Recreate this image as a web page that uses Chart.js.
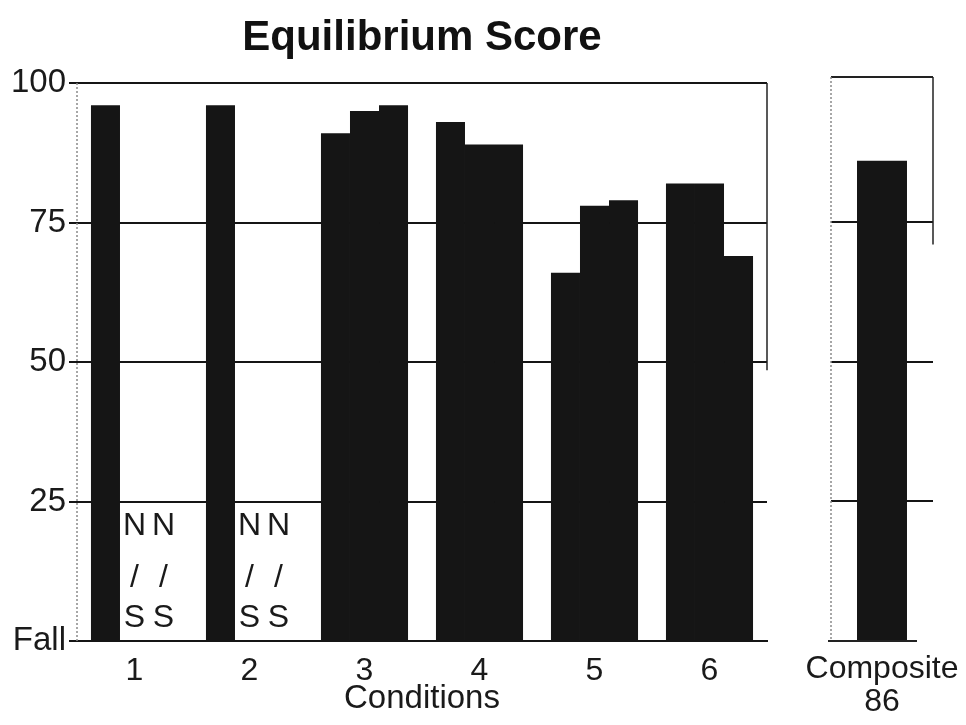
<!DOCTYPE html>
<html>
<head>
<meta charset="utf-8">
<title>Equilibrium Score</title>
<script src="https://cdn.jsdelivr.net/npm/chart.js@4.4.1/dist/chart.umd.min.js"></script>
<style>
    body { margin: 0; background: #fff; }
    #mainBox { position: absolute; left: 0; top: 0; width: 790px; height: 725px; }
    #compBox { position: absolute; left: 790px; top: 0; width: 176px; height: 725px; }
</style>
</head>
<body>
<div id="mainBox"><canvas id="scoreChart" width="790" height="725"></canvas></div>
<div id="compBox"><canvas id="compositeChart" width="176" height="725"></canvas></div>
<script>
// Conditions and the three trials per condition (null = not scored, shown as N/S)
const conditions = ['1', '2', '3', '4', '5', '6'];
const trial1 = [96, 96, 91, 93, 66, 82];
const trial2 = [null, null, 95, 89, 78, 82];
const trial3 = [null, null, 96, 89, 79, 69];

// Composite panel
const compositeName = 'Composite';
const compositeScore = 86;

// Y axis tick labels (bottom value is a fall)
const yTickLabels = ['Fall', '25', '50', '75', '100'];
const notScoredText = ['N', '/', 'S'];

const fontFamily = '"Liberation Sans", Arial, sans-serif';
const ink = '#151515';

// Writes N / S in the slot of each trial that has no score
const notScoredPlugin = {
    id: 'notScored',
    afterDatasetsDraw(chart) {
        const ctx = chart.ctx;
        const y = chart.scales.y;
        const levels = [20.5, 11.3, 4.1]; // where the three characters sit
        ctx.save();
        ctx.fillStyle = '#1a1a1a';
        ctx.font = '32px ' + fontFamily;
        ctx.textAlign = 'center';
        ctx.textBaseline = 'middle';
        chart.data.datasets.forEach((ds, i) => {
            const meta = chart.getDatasetMeta(i);
            ds.data.forEach((v, j) => {
                if (v !== null) return;
                const x = meta.data[j].x;
                notScoredText.forEach((ch, k) => {
                    ctx.fillText(ch, x, y.getPixelForValue(levels[k]));
                });
            });
        });
        ctx.restore();
    }
};

// Dotted left axis, and right edge of the frame only down to just below 50
const mainFramePlugin = {
    id: 'mainFrame',
    afterDraw(chart) {
        const ctx = chart.ctx;
        const a = chart.chartArea;
        ctx.save();
        ctx.strokeStyle = '#222';
        ctx.lineWidth = 1.5;
        ctx.beginPath();
        ctx.moveTo(a.right, a.top);
        ctx.lineTo(a.right, chart.scales.y.getPixelForValue(48.5));
        ctx.stroke();
        ctx.strokeStyle = '#8a8a8a';
        ctx.setLineDash([2, 2]);
        ctx.beginPath();
        ctx.moveTo(a.left, a.top);
        ctx.lineTo(a.left, a.bottom);
        ctx.stroke();
        ctx.restore();
    }
};

// Frame around the composite bar
const compFramePlugin = {
    id: 'compFrame',
    afterDraw(chart) {
        const ctx = chart.ctx;
        const a = chart.chartArea;
        const bar = chart.getDatasetMeta(0).data[0];
        ctx.save();
        ctx.strokeStyle = '#222';
        ctx.lineWidth = 2;
        ctx.beginPath();
        ctx.moveTo(a.left, a.top);
        ctx.lineTo(a.right, a.top);
        ctx.stroke();
        // base line stops a little past the bar
        ctx.beginPath();
        ctx.moveTo(a.left - 3, a.bottom);
        ctx.lineTo(bar.x + bar.width / 2 + 10, a.bottom);
        ctx.stroke();
        ctx.lineWidth = 1.5;
        ctx.beginPath();
        ctx.moveTo(a.right, a.top);
        ctx.lineTo(a.right, chart.scales.y.getPixelForValue(71));
        ctx.stroke();
        ctx.strokeStyle = '#8a8a8a';
        ctx.setLineDash([2, 2]);
        ctx.beginPath();
        ctx.moveTo(a.left, a.top);
        ctx.lineTo(a.left, a.bottom);
        ctx.stroke();
        ctx.restore();
    }
};

const barStyle = {
    backgroundColor: ink,
    borderWidth: 0,
    categoryPercentage: 0.757,
    barPercentage: 1.0
};

new Chart(document.getElementById('scoreChart'), {
    type: 'bar',
    data: {
        labels: conditions,
        datasets: [
            Object.assign({ label: 'Trial 1', data: trial1 }, barStyle),
            Object.assign({ label: 'Trial 2', data: trial2 }, barStyle),
            Object.assign({ label: 'Trial 3', data: trial3 }, barStyle)
        ]
    },
    options: {
        responsive: false,
        animation: false,
        devicePixelRatio: 1,
        layout: { padding: { left: 0, right: 23, top: 0, bottom: 0 } },
        scales: {
            x: {
                grid: { display: false },
                border: { color: ink, width: 2 },
                ticks: {
                    color: '#1a1a1a',
                    padding: 7,
                    font: { family: fontFamily, size: 32, lineHeight: '30px' }
                },
                title: {
                    display: true,
                    text: 'Conditions',
                    color: '#1a1a1a',
                    padding: { top: 0, bottom: 11 },
                    font: { family: fontFamily, size: 33, lineHeight: '30px' }
                },
                afterFit: s => { s.height = 84; }
            },
            y: {
                min: 0,
                max: 100,
                ticks: {
                    stepSize: 25,
                    color: '#1a1a1a',
                    padding: 3,
                    font: { family: fontFamily, size: 33 },
                    callback: (v, i) => yTickLabels[i]
                },
                grid: { color: ink, lineWidth: 2, tickLength: 8 },
                border: { display: false },
                afterFit: s => { s.width = 77; }
            }
        },
        plugins: {
            legend: { display: false },
            tooltip: { enabled: false },
            title: {
                display: true,
                text: 'Equilibrium Score',
                fullSize: false,
                color: '#111',
                padding: { top: 17, bottom: 24 },
                font: { family: fontFamily, size: 42, weight: 'bold', lineHeight: 1 }
            }
        }
    },
    plugins: [notScoredPlugin, mainFramePlugin]
});

new Chart(document.getElementById('compositeChart'), {
    type: 'bar',
    data: {
        labels: [[compositeName, String(compositeScore)]],
        datasets: [{
            label: compositeName,
            data: [compositeScore],
            backgroundColor: ink,
            borderWidth: 0,
            categoryPercentage: 1.0,
            barPercentage: 0.49
        }]
    },
    options: {
        responsive: false,
        animation: false,
        devicePixelRatio: 1,
        layout: { padding: { left: 41, right: 33, top: 77, bottom: 0 } },
        scales: {
            x: {
                grid: { display: false },
                border: { display: false },
                ticks: {
                    color: '#1a1a1a',
                    padding: 4,
                    maxRotation: 0,
                    font: { family: fontFamily, size: 32, lineHeight: '33px' }
                },
                // label is wider than the panel: keep the plot area as it is
                afterFit: s => { s.height = 84; s.paddingLeft = 0; s.paddingRight = 0; }
            },
            y: {
                min: 0,
                max: 101,
                ticks: { display: false, stepSize: 25 },
                grid: {
                    drawTicks: false,
                    lineWidth: 2,
                    color: c => (c.tick && [25, 50, 75].includes(c.tick.value)) ? ink : 'rgba(0,0,0,0)'
                },
                border: { display: false },
                afterFit: s => { s.width = 0; }
            }
        },
        plugins: {
            legend: { display: false },
            tooltip: { enabled: false }
        }
    },
    plugins: [compFramePlugin]
});
</script>
</body>
</html>
